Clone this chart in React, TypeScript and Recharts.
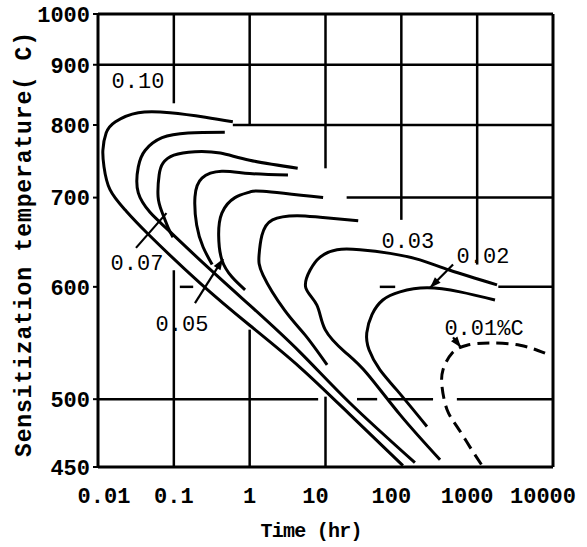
import React from 'react';
import { LineChart, Line, XAxis, YAxis, ReferenceLine, ReferenceDot } from 'recharts';

type Pt = [number, number]; // [time hr, temperature C]

const TIME_TICKS = [0.01, 0.1, 1, 10, 100, 1000, 10000];
const TEMP_TICKS = [450, 500, 600, 700, 800, 900, 1000];

// sensitization curves (upper branch -> nose -> lower branch)
const CURVE_010: Pt[] = [[0.6, 805], [0.26, 812], [0.089, 819], [0.034, 819], [0.017, 805], [0.0128, 788], [0.0116, 763], [0.012, 740], [0.0144, 710], [0.0227, 685], [0.044, 658], [0.22, 604], [1.0, 563], [4.6, 526], [21, 488], [105, 451]];
const CURVE_008: Pt[] = [[0.47, 789], [0.154, 788], [0.07, 781], [0.042, 763], [0.034, 740], [0.034, 706], [0.0485, 682], [0.066, 670], [0.22, 628], [1.0, 582], [4.6, 539], [21, 497], [151, 453]];
const CURVE_007: Pt[] = [[4.3, 738], [1.0, 749], [0.41, 759], [0.19, 761], [0.1, 756], [0.072, 745], [0.064, 729], [0.062, 701], [0.07, 682], [0.084, 664], [0.0975, 653]];
const CURVE_006: Pt[] = [[3.2, 729], [1.0, 731], [0.43, 734], [0.235, 725], [0.19, 701], [0.2, 667], [0.243, 642], [0.32, 623]];
const CURVE_005: Pt[] = [[9.3, 700], [1.5, 708], [1.0, 707], [0.64, 700], [0.43, 681], [0.39, 655], [0.43, 628], [0.585, 610], [0.87, 597]];
const CURVE_004: Pt[] = [[27, 672], [8.5, 676], [4.2, 678], [2.0, 673], [1.45, 655], [1.33, 633], [1.5, 612], [2.9, 577], [5.4, 554], [10.5, 528]];
const CURVE_003: Pt[] = [[1828, 602], [438, 617], [176, 628], [71, 635], [28.5, 639], [14.2, 639], [8.5, 631], [6.25, 617], [5.5, 599], [7.7, 582], [9.9, 559], [18.1, 539], [35, 521], [96, 488], [324, 455]];
const CURVE_002: Pt[] = [[1718, 587], [594, 595], [218, 599], [96, 595], [57, 587], [41, 573], [35, 556], [37.5, 541], [52, 524], [88, 507], [218, 479]];
const CURVE_001: Pt[] = [[7852, 538], [3675, 545], [1477, 547], [735, 545], [466, 538], [355, 524], [344, 510], [400, 492], [542, 479], [805, 464], [1194, 450]];

const SOLID_CURVES = [CURVE_010, CURVE_008, CURVE_007, CURVE_006, CURVE_005, CURVE_004, CURVE_003, CURVE_002];

// grid pieces as printed (broken where curves and labels sit)
const GRID_TIME: [number, number, number][] = [
  [0.1, 834, 1000], [0.1, 450, 617],
  [1, 800, 1000], [1, 450, 559],
  [10, 738, 1000], [10, 450, 502],
  [100, 673, 1000],
  [1000, 623, 1000],
];
const GRID_TEMP: [number, number, number][] = [
  [900, 0.01, 10000],
  [800, 0.6, 10000],
  [700, 19, 10000],
  [600, 1900, 10000], [600, 0.12, 0.18], [600, 52, 83],
  [500, 0.01, 8], [500, 26, 48], [500, 65, 262], [500, 540, 10000],
];

const CURVE_LABELS: { text: string; time: number; temp: number }[] = [
  { text: '0.10', time: 0.0337, temp: 873 },
  { text: '0.07', time: 0.0327, temp: 625 },
  { text: '0.05', time: 0.128, temp: 565 },
  { text: '0.03', time: 122, temp: 650 },
  { text: '0.02', time: 1194, temp: 633 },
  { text: '0.01%C', time: 1230, temp: 561 },
];

const POINTERS: { from: Pt; to: Pt; arrow: boolean }[] = [
  { from: [0.0317, 641], to: [0.08, 681], arrow: false },
  { from: [0.19, 584], to: [0.445, 629], arrow: true },
  { from: [481, 623], to: [239, 599], arrow: true },
  { from: [481, 552], to: [612, 543], arrow: true },
];

const MONO = '"Liberation Mono", "DejaVu Sans Mono", monospace';
const INK = '#000';

// 1/T axis (T in kelvin)
const inv = (t: number) => 10000 / (t + 273);

const PointerShape = (props: any) => {
  const { x1, y1, x2, y2, arrow } = props;
  if (x1 == null || x2 == null) return null;
  const a = Math.atan2(y2 - y1, x2 - x1);
  const len = 11;
  const w = 4;
  const bx = x2 - len * Math.cos(a);
  const by = y2 - len * Math.sin(a);
  const pts = `${x2},${y2} ${bx - w * Math.sin(a)},${by + w * Math.cos(a)} ${bx + w * Math.sin(a)},${by - w * Math.cos(a)}`;
  return (
    <g>
      <line x1={x1} y1={y1} x2={x2} y2={y2} stroke={INK} strokeWidth={2.2} />
      {arrow && <polygon points={pts} fill={INK} />}
    </g>
  );
};

const TimeTick = (props: any) => {
  const { x, y, payload } = props;
  const v = payload.value;
  const shift = v >= 10 ? -10 : v < 0.05 ? 6 : 0;
  return (
    <text x={x + shift} y={y} dy="0.71em" textAnchor="middle" fontFamily={MONO} fontSize={22} fontWeight="bold" fill={INK}>
      {String(v)}
    </text>
  );
};

const TimeTitle = (props: any) => {
  const vb = props.viewBox || { x: 98, y: 467, width: 455, height: 70 };
  return (
    <text x={vb.x + vb.width / 2 - 14} y={vb.y + vb.height} textAnchor="middle" fontFamily={MONO} fontSize={20} fontWeight="bold" fill={INK} textLength={102} lengthAdjust="spacing">
      Time (hr)
    </text>
  );
};

const TempTitle = (props: any) => {
  const vb = props.viewBox || { x: 0, y: 14, width: 98, height: 453 };
  const cx = vb.x + 25;
  const cy = vb.y + vb.height / 2 + 4;
  return (
    <text x={cx} y={cy} transform={`rotate(-90, ${cx}, ${cy})`} textAnchor="middle" dominantBaseline="central" fontFamily={MONO} fontSize={23} fontWeight="bold" fill={INK} textLength={425} lengthAdjust="spacing">
      Sensitization temperature( C)
    </text>
  );
};

const toRows = (pts: Pt[]) => pts.map(([time, temp]) => ({ time, temp }));

export default function App() {
  return (
    <div style={{ position: 'absolute', left: 0, top: 0, width: 587, height: 547, background: '#fff' }}>
      <LineChart width={587} height={547} margin={{ top: 14, right: 34, bottom: 10, left: 0 }}>
        <XAxis
          dataKey="time"
          type="number"
          scale="log"
          domain={[0.01, 10000]}
          ticks={TIME_TICKS}
          interval={0}
          allowDataOverflow
          height={70}
          axisLine={{ stroke: INK, strokeWidth: 3 }}
          tickLine={false}
          tickSize={0}
          tickMargin={20}
          tick={<TimeTick />}
          label={TimeTitle}
        />
        <YAxis
          type="number"
          reversed
          domain={[inv(1000), inv(450)]}
          ticks={TEMP_TICKS.map(inv)}
          interval={0}
          allowDataOverflow
          width={98}
          axisLine={{ stroke: INK, strokeWidth: 3 }}
          tickLine={{ stroke: INK, strokeWidth: 2 }}
          tickSize={5}
          tickMargin={3}
          tickFormatter={(v: number) => String(Math.round(10000 / v - 273))}
          tick={{ fontFamily: MONO, fontSize: 22, fontWeight: 'bold', fill: INK }}
          label={TempTitle}
        />

        {/* frame top and right */}
        <ReferenceLine y={inv(1000)} stroke={INK} strokeWidth={3} ifOverflow="visible" />
        <ReferenceLine x={10000} stroke={INK} strokeWidth={3} ifOverflow="visible" />

        {GRID_TIME.map(([t, lo, hi], i) => (
          <ReferenceLine key={`gt-${i}`} segment={[{ x: t, y: inv(lo) }, { x: t, y: inv(hi) }]} stroke={INK} strokeWidth={2.5} ifOverflow="visible" />
        ))}
        {GRID_TEMP.map(([temp, a, b], i) => (
          <ReferenceLine key={`gT-${i}`} segment={[{ x: a, y: inv(temp) }, { x: b, y: inv(temp) }]} stroke={INK} strokeWidth={2.5} ifOverflow="visible" />
        ))}

        {SOLID_CURVES.map((pts, i) => (
          <Line
            key={`c-${i}`}
            data={toRows(pts)}
            dataKey={(d: any) => inv(d.temp)}
            type="natural"
            stroke={INK}
            strokeWidth={3}
            dot={false}
            activeDot={false}
            isAnimationActive={false}
          />
        ))}
        <Line
          data={toRows(CURVE_001)}
          dataKey={(d: any) => inv(d.temp)}
          type="natural"
          stroke={INK}
          strokeWidth={3}
          strokeDasharray="12 7"
          dot={false}
          activeDot={false}
          isAnimationActive={false}
        />

        {POINTERS.map((p, i) => (
          <ReferenceLine
            key={`p-${i}`}
            segment={[{ x: p.from[0], y: inv(p.from[1]) }, { x: p.to[0], y: inv(p.to[1]) }]}
            ifOverflow="visible"
            shape={(props: any) => <PointerShape {...props} arrow={p.arrow} />}
          />
        ))}

        {CURVE_LABELS.map((l) => (
          <ReferenceDot
            key={l.text}
            x={l.time}
            y={inv(l.temp)}
            r={0}
            fill="none"
            stroke="none"
            ifOverflow="visible"
            label={{ value: l.text, position: 'center', fontFamily: MONO, fontSize: 22, fill: INK }}
          />
        ))}
      </LineChart>
    </div>
  );
}
